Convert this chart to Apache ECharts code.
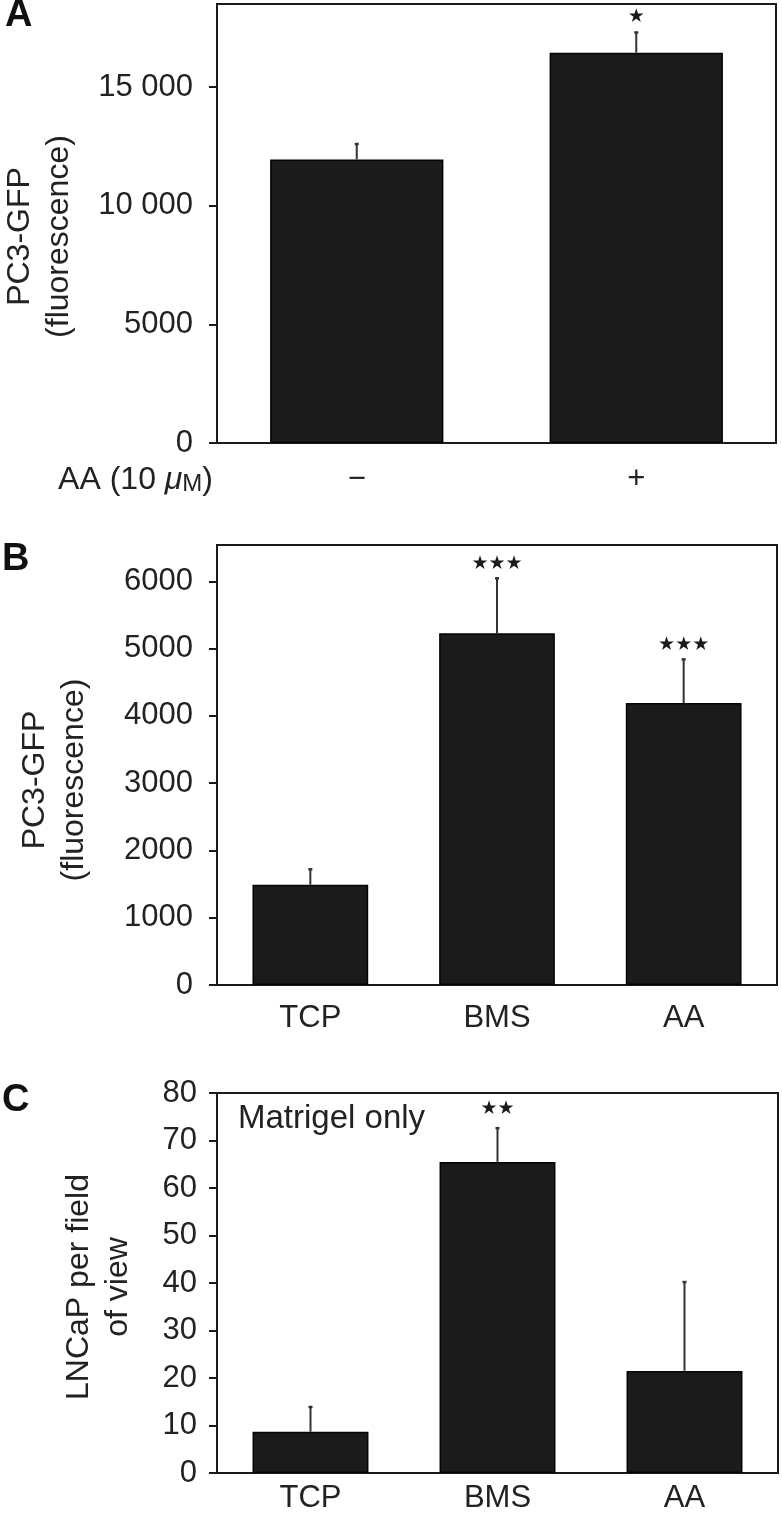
<!DOCTYPE html>
<html><head><meta charset="utf-8">
<script src="https://cdn.jsdelivr.net/npm/echarts@6/dist/echarts.min.js"></script>
<style>html,body{margin:0;padding:0;background:#fff}#c{width:782px;height:1526px}</style>
</head><body><div id="c"></div>
<script>
// ---- Panel A ----
const catsA = ['\u2212', '+'];
const valsA = [11950, 16450];
const errA = [650, 850];
const sigA = ['', '\u2605'];
const ticksA = [0, 5000, 10000, 15000];

// ---- Panel B ----
const catsB = ['TCP', 'BMS', 'AA'];
const valsB = [1490, 5230, 4190];
const errB = [230, 815, 650];
const sigB = ['', '\u2605\u2605\u2605', '\u2605\u2605\u2605'];
const ticksB = [0, 1000, 2000, 3000, 4000, 5000, 6000];

// ---- Panel C ----
const catsC = ['TCP', 'BMS', 'AA'];
const valsC = [8.7, 65.5, 21.5];
const errC = [5.2, 7.1, 18.7];
const sigC = ['', '\u2605\u2605', ''];
const ticksC = [0, 10, 20, 30, 40, 50, 60, 70, 80];

const FONT = 'Liberation Sans, Arial, Helvetica, sans-serif';
const INK = '#222';

function fmtThousands(v) {
  if (v >= 10000) { const s = String(v); return s.slice(0, s.length - 3) + ' ' + s.slice(-3); }
  return String(v);
}

function yAxisCfg(gi, max, ticks, name, gap, pad, labelMargin) {
  return {
    type: 'value', gridIndex: gi, min: 0, max: max,
    name: name, nameLocation: 'middle', nameRotate: 90, nameGap: gap, nameMoveOverlap: false,
    nameTextStyle: { fontSize: 32, color: INK, fontFamily: FONT, lineHeight: 39, padding: pad },
    axisLine: { show: true, lineStyle: { color: '#1a1a1a', width: 2 } },
    axisTick: { show: true, inside: false, length: 8, lineStyle: { color: '#1a1a1a', width: 2 }, customValues: ticks },
    axisLabel: { fontSize: 31, color: INK, fontFamily: FONT, margin: labelMargin, customValues: ticks, formatter: fmtThousands, hideOverlap: false },
    splitLine: { show: false }
  };
}
function xAxisCfg(gi, cats, margin) {
  return {
    type: 'category', gridIndex: gi, data: cats, nameMoveOverlap: false,
    axisLine: { show: true, lineStyle: { color: '#1a1a1a', width: 2 } },
    axisTick: { show: false },
    axisLabel: { fontSize: 31, color: INK, fontFamily: FONT, margin: margin }
  };
}
function barSeries(gi, vals) {
  return {
    type: 'bar', xAxisIndex: gi, yAxisIndex: gi, data: vals, barWidth: '62%',
    itemStyle: { color: '#1b1b1b', borderColor: '#050505', borderWidth: 1.5 },
    silent: true, animation: false
  };
}
function errSeries(gi, vals, errs, sigs, starGap) {
  return {
    type: 'custom', xAxisIndex: gi, yAxisIndex: gi, animation: false, silent: true, z: 5,
    data: vals.map((v, i) => [i, v, v + errs[i]]),
    renderItem(params, api) {
      const base = api.coord([api.value(0), api.value(1)]);
      const top = api.coord([api.value(0), api.value(2)]);
      const children = [
        { type: 'line', shape: { x1: base[0], y1: base[1], x2: top[0], y2: top[1] }, style: { stroke: '#333', lineWidth: 2 } },
        { type: 'line', shape: { x1: top[0] - 2, y1: top[1], x2: top[0] + 2, y2: top[1] }, style: { stroke: '#333', lineWidth: 2.5 } }
      ];
      const s = sigs[params.dataIndex];
      if (s) {
        children.push({ type: 'text', x: top[0], y: top[1] - starGap,
          style: { text: s, fontSize: 19, fontFamily: 'DejaVu Sans', fill: '#1a1a1a', align: 'center', verticalAlign: 'middle' } });
      }
      return { type: 'group', children: children };
    }
  };
}

const chart = echarts.init(document.getElementById('c'), null, { renderer: 'canvas' });
const gridStyle = { show: true, borderColor: '#1a1a1a', borderWidth: 2, backgroundColor: 'transparent', containLabel: false, outerBoundsMode: 'none' };
const panelFont = { fontSize: 38, fontWeight: 'bold', color: '#111', fontFamily: FONT };
chart.setOption({
  animation: false,
  textStyle: { fontFamily: FONT },
  title: [
    { text: 'A', left: 5, top: -3, padding: 0, textStyle: panelFont },
    { text: 'B', left: 2, top: 541, padding: 0, textStyle: panelFont },
    { text: 'C', left: 2, top: 1082, padding: 0, textStyle: panelFont },
    { text: 'Matrigel only', left: 238, top: 1102, padding: 0, textStyle: { fontSize: 33, fontWeight: 'normal', color: INK, fontFamily: FONT } }
  ],
  grid: [
    Object.assign({ left: 217, right: 6, top: 4, height: 439 }, gridStyle),
    Object.assign({ left: 217, right: 5, top: 545, height: 440 }, gridStyle),
    Object.assign({ left: 217, right: 4, top: 1093, height: 380 }, gridStyle)
  ],
  xAxis: [
    Object.assign(xAxisCfg(0, catsA, 21), {
      name: 'AA (10 {i|\u03bc}{s|M})', nameLocation: 'start', nameGap: 4,
      nameTextStyle: {
        fontSize: 32, color: INK, fontFamily: FONT, align: 'right', verticalAlign: 'top', lineHeight: 32, padding: [21, 0, 0, 0],
        rich: { i: { fontSize: 32, fontStyle: 'italic', color: INK, fontFamily: FONT, lineHeight: 32 },
                s: { fontSize: 24, color: INK, fontFamily: FONT, verticalAlign: 'bottom', lineHeight: 32 } }
      }
    }),
    xAxisCfg(1, catsB, 18),
    xAxisCfg(2, catsC, 10)
  ],
  yAxis: [
    yAxisCfg(0, 18500, ticksA, 'PC3-GFP\n(fluorescence)', 138, [0, 26, 0, 0], 24),
    yAxisCfg(1, 6540, ticksB, 'PC3-GFP\n(fluorescence)', 123, [0, 30, 0, 0], 24),
    yAxisCfg(2, 80, ticksC, 'LNCaP per field\nof view', 79, [0, 8, 0, 0], 20)
  ],
  series: [
    barSeries(0, valsA), errSeries(0, valsA, errA, sigA, 15),
    barSeries(1, valsB), errSeries(1, valsB, errB, sigB, 14),
    barSeries(2, valsC), errSeries(2, valsC, errC, sigC, 19)
  ]
});
</script>
</body></html>
